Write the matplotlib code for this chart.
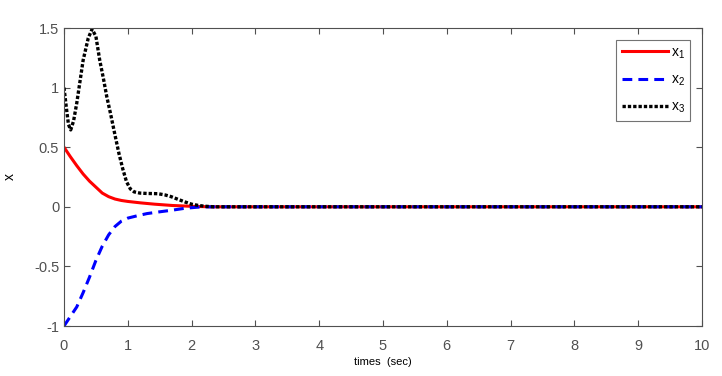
import numpy as np
import matplotlib.pyplot as plt

plt.rcParams['font.family'] = ['Liberation Sans', 'DejaVu Sans']
plt.rcParams['mathtext.fontset'] = 'custom'
plt.rcParams['mathtext.rm'] = 'Liberation Sans'
plt.rcParams['mathtext.it'] = 'Liberation Sans'

# values
t1 = [0, 0.1, 0.2, 0.3, 0.4, 0.5, 0.6, 0.7, 0.8, 0.9, 1.0, 1.2, 1.42, 1.7, 2.0, 2.3, 10]
x1 = [0.5, 0.42, 0.345, 0.275, 0.215, 0.165, 0.115, 0.085, 0.065, 0.053, 0.045, 0.033, 0.022, 0.011, 0.004, 0.0, 0.0]

t2 = [0, 0.1, 0.2, 0.3, 0.4, 0.5, 0.6, 0.7, 0.8, 0.9, 1.0, 1.15, 1.3, 1.5, 1.7, 1.9, 2.1, 2.3, 10]
x2 = [-1.0, -0.92, -0.84, -0.72, -0.59, -0.45, -0.33, -0.235, -0.165, -0.12, -0.095, -0.075,
      -0.057, -0.042, -0.028, -0.012, -0.003, 0.0, 0.0]

t3 = [0, 0.035, 0.07, 0.105, 0.15, 0.2, 0.25, 0.3, 0.38, 0.44, 0.5, 0.56, 0.62, 0.67, 0.73,
      0.8, 0.86, 0.92, 0.98, 1.04, 1.1, 1.19, 1.3, 1.47, 1.58, 1.68, 1.8, 1.9, 2.0, 2.1, 2.2, 2.35, 10]
x3 = [1.0, 0.84, 0.69, 0.645, 0.72, 0.87, 1.05, 1.23, 1.415, 1.49, 1.43, 1.23, 1.07, 0.925, 0.78,
      0.60, 0.45, 0.32, 0.21, 0.15, 0.125, 0.115, 0.112, 0.11, 0.10, 0.085, 0.06, 0.04, 0.022,
      0.012, 0.005, 0.0, 0.0]

grey = "#505050"

fig = plt.figure(figsize=(7.22, 3.76), dpi=100)
ax = fig.add_axes([64/722, 1 - 326/376, 638/722, 298/376])

ax.plot(t1, x1, color="red", lw=2.2, label="x$_1$")
ax.plot(t2, x2, color="blue", lw=2.2, dashes=(3.2, 2), label="x$_2$")
ax.plot(t3, x3, color="black", lw=2.4, ls=(0, (1, 0.6)), label="x$_3$")

ax.set_xlim(0, 10)
ax.set_ylim(-1, 1.5)
ax.set_xticks(np.arange(0, 11, 1))
ax.set_yticks([-1, -0.5, 0, 0.5, 1, 1.5])
ax.set_yticklabels(["-1", "-0.5", "0", "0.5", "1", "1.5"])
ax.tick_params(direction="in", length=4, colors=grey, labelsize=10.5, top=True, right=True)
ax.tick_params(axis="x", pad=9)
for s in ax.spines.values():
    s.set_color(grey)
    s.set_linewidth(0.8)

ax.set_xlabel("times  (sec)", fontsize=8, labelpad=3)
ax.set_ylabel("x", fontsize=10, labelpad=12)

leg = ax.legend(loc="upper right", fontsize=10, fancybox=False, edgecolor=grey,
                handlelength=3.3, handletextpad=0.2, labelspacing=0.85,
                borderaxespad=0.85, bbox_to_anchor=(1, 1))
leg.get_frame().set_linewidth(0.8)

fig.savefig("out.png", dpi=100)
